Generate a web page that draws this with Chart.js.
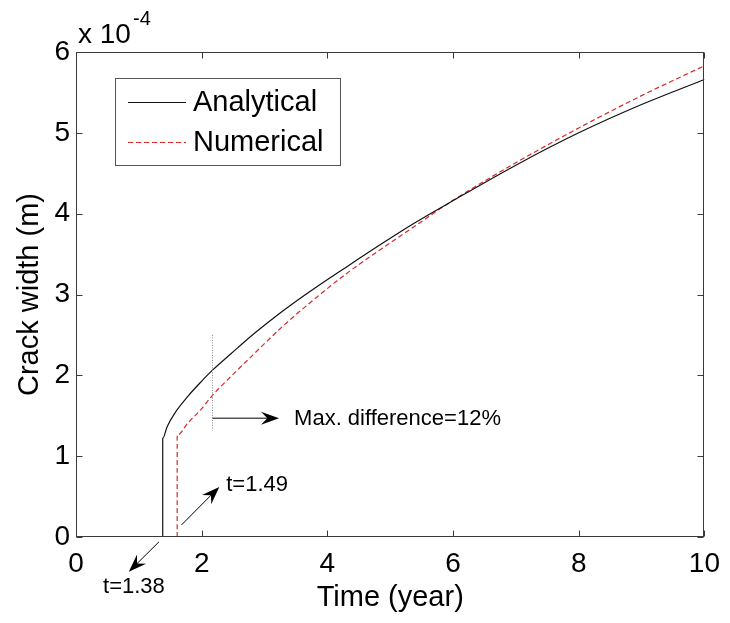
<!DOCTYPE html>
<html>
<head>
<meta charset="utf-8">
<script src="https://cdn.jsdelivr.net/npm/chart.js@4.4.1/dist/chart.umd.min.js"></script>
<style>
  html, body { margin: 0; background: #fff; }
</style>
</head>
<body>
<canvas id="chart" width="730" height="623"></canvas>
<script>
// crack width in units of 1e-4 m, time in years
const analyticalT = [1.38, 1.38, 1.45, 1.57, 1.78, 1.99, 2.18, 2.47, 2.84, 3.28, 3.82, 4.34, 4.87, 5.40, 5.93, 7, 8, 9, 10]
const analyticalW = [0, 1.22, 1.365, 1.53, 1.74, 1.92, 2.07, 2.27, 2.52, 2.79, 3.09, 3.36, 3.63, 3.89, 4.13, 4.60, 5.00, 5.35, 5.66]
const numericalT = [1.61, 1.61, 1.78, 1.99, 2.18, 2.47, 2.76, 3.28, 3.82, 4.34, 4.87, 5.40, 5.93, 7, 8, 9, 10]
const numericalW = [0, 1.26, 1.41, 1.58, 1.76, 1.99, 2.21, 2.60, 2.96, 3.28, 3.57, 3.85, 4.13, 4.63, 5.06, 5.46, 5.83]
const seriesNames = ['Analytical', 'Numerical']
const xTicks = [0, 2, 4, 6, 8, 10]
const yTicks = [0, 1, 2, 3, 4, 5, 6]

const FONT = '"Liberation Sans", Arial, sans-serif'

const toPoints = (xs, ys) => xs.map((t, i) => ({ x: t, y: ys[i] }))

function arrow(ctx, x1, y1, x2, y2) {
  const ang = Math.atan2(y2 - y1, x2 - x1)
  const len = 18, half = 6.5
  ctx.beginPath()
  ctx.moveTo(x1, y1)
  ctx.lineTo(x2 - Math.cos(ang) * len * 0.6, y2 - Math.sin(ang) * len * 0.6)
  ctx.stroke()
  ctx.save()
  ctx.translate(x2, y2)
  ctx.rotate(ang)
  ctx.beginPath()
  ctx.moveTo(0, 0)
  ctx.lineTo(-len, -half)
  ctx.lineTo(-len * 0.65, 0)
  ctx.lineTo(-len, half)
  ctx.closePath()
  ctx.fill()
  ctx.restore()
}

const decor = {
  id: 'decor',
  afterDraw(chart) {
    const { ctx, chartArea: a, scales: { x, y } } = chart
    const L = Math.round(a.left) + 0.5, R = Math.round(a.right) - 0.5
    const T = Math.round(a.top) + 0.5, B = Math.round(a.bottom) - 0.5
    ctx.save()

    // box and inward ticks
    ctx.strokeStyle = '#3a3a3a'
    ctx.lineWidth = 1
    ctx.strokeRect(L, T, R - L, B - T)
    ctx.beginPath()
    xTicks.forEach(v => {
      const px = Math.round(x.getPixelForValue(v)) + 0.5
      ctx.moveTo(px, B); ctx.lineTo(px, B - 6)
      ctx.moveTo(px, T); ctx.lineTo(px, T + 6)
    })
    yTicks.forEach(v => {
      const py = Math.round(y.getPixelForValue(v)) + 0.5
      ctx.moveTo(L, py); ctx.lineTo(L + 6, py)
      ctx.moveTo(R, py); ctx.lineTo(R - 6, py)
    })
    ctx.stroke()

    // exponent label
    ctx.fillStyle = '#000'
    ctx.textBaseline = 'alphabetic'
    ctx.textAlign = 'left'
    ctx.font = '28px ' + FONT
    ctx.fillText('x 10', 78, 43)
    ctx.font = '20px ' + FONT
    ctx.fillText('-4', 133, 25)

    // legend
    ctx.strokeStyle = '#555'
    ctx.strokeRect(115.5, 78.5, 225, 87)
    chart.data.datasets.forEach((ds, i) => {
      const ly = 102 + i * 40
      ctx.strokeStyle = ds.borderColor
      ctx.lineWidth = 1
      ctx.setLineDash(ds.borderDash || [])
      ctx.beginPath()
      ctx.moveTo(128, ly + 0.5); ctx.lineTo(186, ly + 0.5)
      ctx.stroke()
      ctx.setLineDash([])
      ctx.fillStyle = '#000'
      ctx.font = '29px ' + FONT
      ctx.textBaseline = 'middle'
      ctx.fillText(ds.label, 193, ly + 1)
    })

    // annotations
    ctx.fillStyle = '#000'
    ctx.lineWidth = 1

    ctx.strokeStyle = '#888'
    ctx.setLineDash([1, 1.5])
    ctx.beginPath()
    const dx = Math.round(x.getPixelForValue(2.17)) + 0.5
    ctx.moveTo(dx, y.getPixelForValue(2.5))
    ctx.lineTo(dx, y.getPixelForValue(1.32))
    ctx.stroke()
    ctx.setLineDash([])

    ctx.strokeStyle = '#000'
    arrow(ctx, dx, y.getPixelForValue(1.47), x.getPixelForValue(3.23), y.getPixelForValue(1.47))
    arrow(ctx, x.getPixelForValue(1.68), y.getPixelForValue(0.15), x.getPixelForValue(2.28), y.getPixelForValue(0.62))
    arrow(ctx, x.getPixelForValue(1.32), y.getPixelForValue(-0.06), x.getPixelForValue(0.84), y.getPixelForValue(-0.43))

    ctx.font = '22px ' + FONT
    ctx.textBaseline = 'middle'
    ctx.textAlign = 'left'
    ctx.fillText('Max. difference=12%', x.getPixelForValue(3.47), y.getPixelForValue(1.46))
    ctx.fillText('t=1.49', x.getPixelForValue(2.39), y.getPixelForValue(0.64))
    ctx.fillText('t=1.38', x.getPixelForValue(0.43), y.getPixelForValue(-0.62))

    ctx.restore()
  }
}

new Chart(document.getElementById('chart'), {
  type: 'scatter',
  data: {
    datasets: [
      {
        label: seriesNames[0],
        data: toPoints(analyticalT, analyticalW),
        showLine: true,
        borderColor: '#111111',
        borderWidth: 1.2,
        pointRadius: 0,
        cubicInterpolationMode: 'monotone',
      },
      {
        label: seriesNames[1],
        data: toPoints(numericalT, numericalW),
        showLine: true,
        borderColor: '#d42a2a',
        borderWidth: 1.2,
        borderDash: [5, 3],
        pointRadius: 0,
        cubicInterpolationMode: 'monotone',
      },
    ],
  },
  options: {
    responsive: false,
    animation: false,
    layout: { padding: { left: 0, top: 52, right: 23, bottom: 0 } },
    plugins: { legend: { display: false }, tooltip: { enabled: false } },
    scales: {
      x: {
        type: 'linear',
        min: 0,
        max: 10,
        afterFit: s => { s.height = 86 },
        afterBuildTicks: s => { s.ticks = xTicks.map(v => ({ value: v })) },
        grid: { display: false, drawTicks: false },
        border: { display: false },
        ticks: { color: '#000', padding: 10, maxRotation: 0, font: { family: FONT, size: 28 } },
        title: { display: true, text: 'Time (year)', color: '#000', padding: { top: 0, bottom: 8 }, font: { family: FONT, size: 29 } },
      },
      y: {
        type: 'linear',
        min: 0,
        max: 6,
        afterFit: s => { s.width = 76 },
        afterBuildTicks: s => { s.ticks = yTicks.map(v => ({ value: v })) },
        grid: { display: false, drawTicks: false },
        border: { display: false },
        ticks: { color: '#000', padding: 6, font: { family: FONT, size: 28 } },
        title: { display: true, text: 'Crack width (m)', color: '#000', padding: { top: 13, bottom: 0 }, font: { family: FONT, size: 29 } },
      },
    },
  },
  plugins: [decor],
})
</script>
</body>
</html>
